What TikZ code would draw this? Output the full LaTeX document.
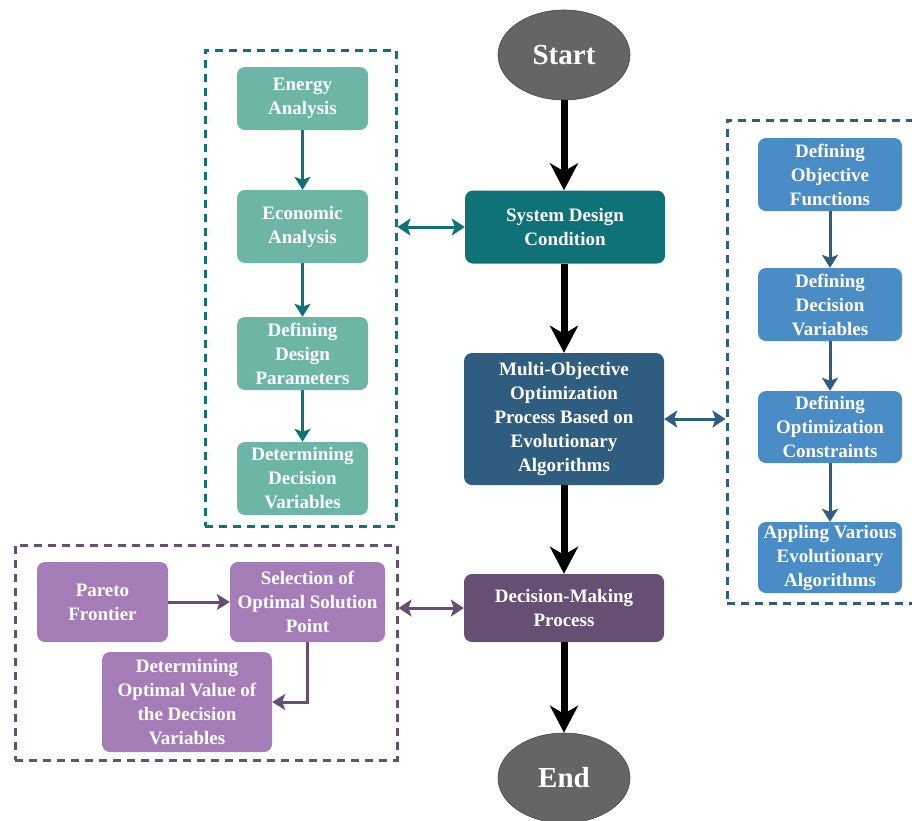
\documentclass[tikz,border=0pt]{standalone}
\usepackage{fontspec}
\setmainfont{Liberation Serif}
\usetikzlibrary{shapes.geometric,arrows.meta}
\definecolor{tealD}{HTML}{0F7276}
\definecolor{tealL}{HTML}{6DB5A7}
\definecolor{blueD}{HTML}{2F5D7F}
\definecolor{blueL}{HTML}{4A8CC5}
\definecolor{purD}{HTML}{654F73}
\definecolor{purL}{HTML}{A47DB7}
\definecolor{grayE}{HTML}{656565}
\tikzset{
  box/.style={rounded corners=8pt, align=center, text=white, inner sep=0pt,
    font=\bfseries\fontsize{19}{24}\selectfont},
  ell/.style={ellipse, fill=grayE, draw=grayE!70!black, line width=0.6pt, text=white,
    inner sep=0pt, minimum width=132pt, minimum height=90pt,
    font=\bfseries\fontsize{29}{32}\selectfont},
  grp/.style={dash pattern=on 8pt off 6pt, line width=3pt, inner sep=0pt},
  bigarr/.style={line width=7pt, -{Stealth[length=27pt,width=28pt,inset=8pt]}},
  smarr/.style={line width=3pt, -{Stealth[length=13pt,width=16pt,inset=3pt]}},
  dblarr/.style={line width=3pt, {Stealth[length=13pt,width=17pt,inset=3pt]}-{Stealth[length=13pt,width=17pt,inset=3pt]}},
}
\begin{document}
\begin{tikzpicture}[x=1pt,y=-1pt]
\useasboundingbox (0,0) rectangle (912,820);

% main column
\node[ell] (start) at (564,55) {Start};
\node[ell] (end) at (564,778) {End};
\node[box, fill=tealD, minimum width=200pt, minimum height=73pt] (sdc) at (565,227) {System Design\\Condition};
\node[box, fill=blueD, minimum width=200pt, minimum height=132pt] (mo) at (564,419) {Multi-Objective\\Optimization\\Process Based on\\Evolutionary\\Algorithms};
\node[box, fill=purD, minimum width=200pt, minimum height=68pt] (dm) at (564,608) {Decision-Making\\Process};

\draw[bigarr] (start.south) -- (start.south |- sdc.north);
\draw[bigarr] (sdc.south -| start.south) -- (start.south |- mo.north);
\draw[bigarr] (mo.south -| start.south) -- (start.south |- dm.north);
\draw[bigarr] (dm.south -| start.south) -- (end.north);

% left teal group
\node[grp, draw=tealD, minimum width=191pt, minimum height=476pt] (gL) at (300.5,288) {};
\node[box, fill=tealL, minimum width=131pt, minimum height=63pt] (e1) at (302.5,98.5) {Energy\\Analysis};
\node[box, fill=tealL, minimum width=131pt, minimum height=73pt] (e2) at (302.5,226.5) {Economic\\Analysis};
\node[box, fill=tealL, minimum width=131pt, minimum height=73pt] (e3) at (302.5,353.5) {Defining\\Design\\Parameters};
\node[box, fill=tealL, minimum width=131pt, minimum height=73pt] (e4) at (302.5,478.5) {Determining\\Decision\\Variables};
\draw[smarr, tealD] (e1) -- (e2);
\draw[smarr, tealD] (e2) -- (e3);
\draw[smarr, tealD] (e3) -- (e4);
\draw[dblarr, tealD] (gL.east |- sdc.west) -- (sdc.west);

% right blue group
\node[grp, draw=blueD, minimum width=195pt, minimum height=483pt] (gR) at (824.5,361.5) {};
\node[box, fill=blueL, minimum width=144pt, minimum height=73pt] (b1) at (830,174.5) {Defining\\Objective\\Functions};
\node[box, fill=blueL, minimum width=144pt, minimum height=73pt] (b2) at (830,304.5) {Defining\\Decision\\Variables};
\node[box, fill=blueL, minimum width=144pt, minimum height=72pt] (b3) at (830,427) {Defining\\Optimization\\Constraints};
\node[box, fill=blueL, minimum width=144pt, minimum height=71pt] (b4) at (830,557.5) {Appling Various\\Evolutionary\\Algorithms};
\draw[smarr, blueD] (b1) -- (b2);
\draw[smarr, blueD] (b2) -- (b3);
\draw[smarr, blueD] (b3) -- (b4);
\draw[dblarr, blueD] (mo.east) -- (gR.west |- mo.east);

% bottom purple group
\node[grp, draw=purD, minimum width=382pt, minimum height=215pt] (gB) at (206,652.5) {};
\node[box, fill=purL, minimum width=131pt, minimum height=80pt] (p1) at (102.5,602) {Pareto\\Frontier};
\node[box, fill=purL, minimum width=155pt, minimum height=80pt] (p2) at (307.5,602) {Selection of\\Optimal Solution\\Point};
\node[box, fill=purL, minimum width=170pt, minimum height=100pt] (p3) at (187,702) {Determining\\Optimal Value of\\the Decision\\Variables};
\draw[smarr, purD] (p1) -- (p2);
\draw[smarr, purD] (p2.south) |- (p3.east);
\draw[dblarr, purD] (gB.east |- dm.west) -- (dm.west);
\end{tikzpicture}
\end{document}
